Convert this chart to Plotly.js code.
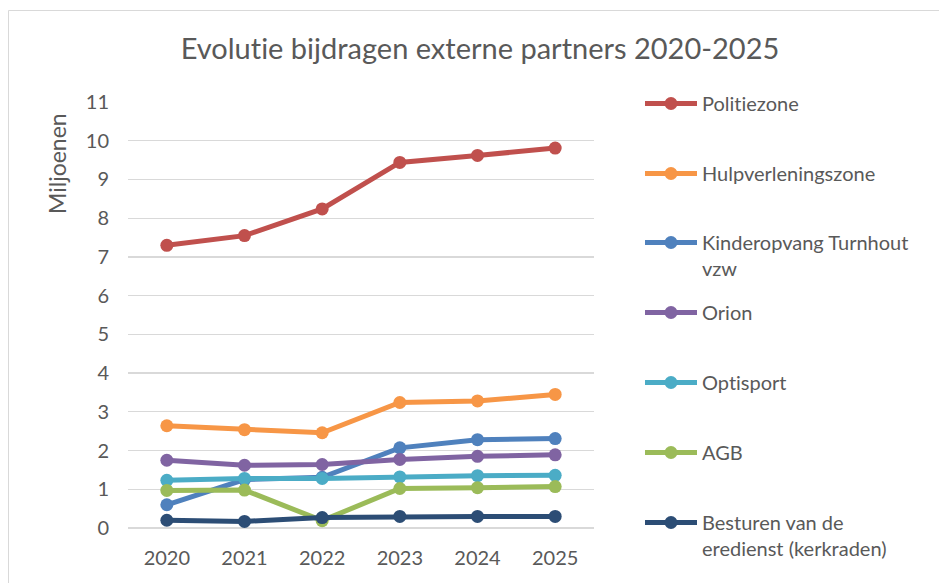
<!DOCTYPE html>
<html>
<head>
<meta charset="utf-8">
<script src="https://cdn.plot.ly/plotly-3.0.1.min.js"></script>
<style>
html,body{margin:0;padding:0;background:#fff;}
#chart{width:939px;height:583px;}
text{font-variant-ligatures:none;font-feature-settings:"liga" 0;}
</style>
</head>
<body>
<div id="chart"></div>
<script>
// Data (values in millions)
const years = ['2020', '2021', '2022', '2023', '2024', '2025'];
const seriesNames = [
  'Politiezone',
  'Hulpverleningszone',
  'Kinderopvang Turnhout<br>vzw',
  'Orion',
  'Optisport',
  'AGB',
  'Besturen van de<br>eredienst (kerkraden)'
];
const politiezone        = [7.30, 7.55, 8.24, 9.44, 9.62, 9.81];
const hulpverleningszone = [2.64, 2.54, 2.46, 3.24, 3.28, 3.45];
const kinderopvang       = [0.60, 1.25, 1.31, 2.07, 2.28, 2.31];
const orion              = [1.75, 1.62, 1.64, 1.77, 1.85, 1.89];
const optisport          = [1.23, 1.28, 1.28, 1.32, 1.35, 1.36];
const agb                = [0.97, 0.98, 0.19, 1.02, 1.04, 1.07];
const besturen           = [0.20, 0.17, 0.27, 0.30, 0.30, 0.30];

const seriesValues = [politiezone, hulpverleningszone, kinderopvang, orion, optisport, agb, besturen];
const colors = ['#C0504D', '#F79646', '#4F81BD', '#8064A2', '#4BACC6', '#9BBB59', '#2C4D75'];

const W = 939, H = 583;
const margin = {l: 128, r: 345, t: 102, b: 55, autoexpand: false};
const plotW = W - margin.l - margin.r;
const plotH = H - margin.t - margin.b;
const px2x = px => (px - margin.l) / plotW;
const py2y = py => (H - margin.b - py) / plotH;

// legend first-line centres (pixels) in the reference
const legendCentersY = [104, 174, 243, 313, 383, 453, 523];
const legendLeftX = 640;

const textColor = '#595959';
const fontFam = 'Lato, "Open Sans", sans-serif';

const traces = seriesValues.map((vals, i) => ({
  type: 'scatter',
  mode: 'lines+markers',
  x: years,
  y: vals,
  name: seriesNames[i],
  line: {color: colors[i], width: 5},
  marker: {color: colors[i], size: 13},
  legend: i === 0 ? 'legend' : 'legend' + (i + 1),
  hoverinfo: 'x+y+name'
}));

const layout = {
  width: W,
  height: H,
  margin: margin,
  paper_bgcolor: '#ffffff',
  plot_bgcolor: '#ffffff',
  font: {family: fontFam, color: textColor, size: 20},
  title: {
    text: 'Evolutie bijdragen externe partners 2020-2025',
    font: {family: fontFam, size: 29, color: textColor},
    x: 480 / W, xref: 'container', xanchor: 'center',
    y: 1 - 49 / H, yref: 'container', yanchor: 'middle'
  },
  xaxis: {
    type: 'category',
    range: [-0.5, 5.5],
    showgrid: false,
    showline: false,
    zeroline: false,
    ticks: '',
    tickfont: {family: fontFam, size: 20, color: textColor},
    ticklabelstandoff: 16,
    automargin: false,
    fixedrange: true
  },
  yaxis: {
    range: [0, 11],
    dtick: 1,
    tick0: 0,
    showgrid: true,
    gridcolor: '#d9d9d9',
    gridwidth: 1.3,
    zeroline: true,
    zerolinecolor: '#d9d9d9',
    zerolinewidth: 1.3,
    showline: false,
    ticks: '',
    tickfont: {family: fontFam, size: 20, color: textColor},
    ticklabelstandoff: 18,
    automargin: false,
    fixedrange: true
  },
  annotations: [{
    text: 'Miljoenen',
    textangle: -90,
    xref: 'paper', yref: 'paper',
    x: px2x(57), y: py2y(164),
    xanchor: 'center', yanchor: 'middle',
    showarrow: false,
    font: {family: fontFam, size: 23, color: textColor}
  }],
  shapes: [{
    type: 'rect', xref: 'paper', yref: 'paper', layer: 'below',
    x0: px2x(8.5), x1: px2x(960), y0: py2y(600), y1: py2y(10.5),
    line: {color: '#d9d9d9', width: 1},
    fillcolor: 'rgba(0,0,0,0)'
  }],
  showlegend: true
};

seriesNames.forEach((n, i) => {
  const key = i === 0 ? 'legend' : 'legend' + (i + 1);
  layout[key] = {
    x: px2x(legendLeftX),
    y: py2y(legendCentersY[i] - 20),
    xanchor: 'left', yanchor: 'top',
    xref: 'paper', yref: 'paper',
    bgcolor: 'rgba(0,0,0,0)',
    borderwidth: 0,
    valign: 'top',
    itemwidth: 52,
    font: {family: fontFam, size: 20, color: textColor}
  };
});

Plotly.newPlot('chart', traces, layout, {displayModeBar: false, staticPlot: true});
</script>
</body>
</html>
